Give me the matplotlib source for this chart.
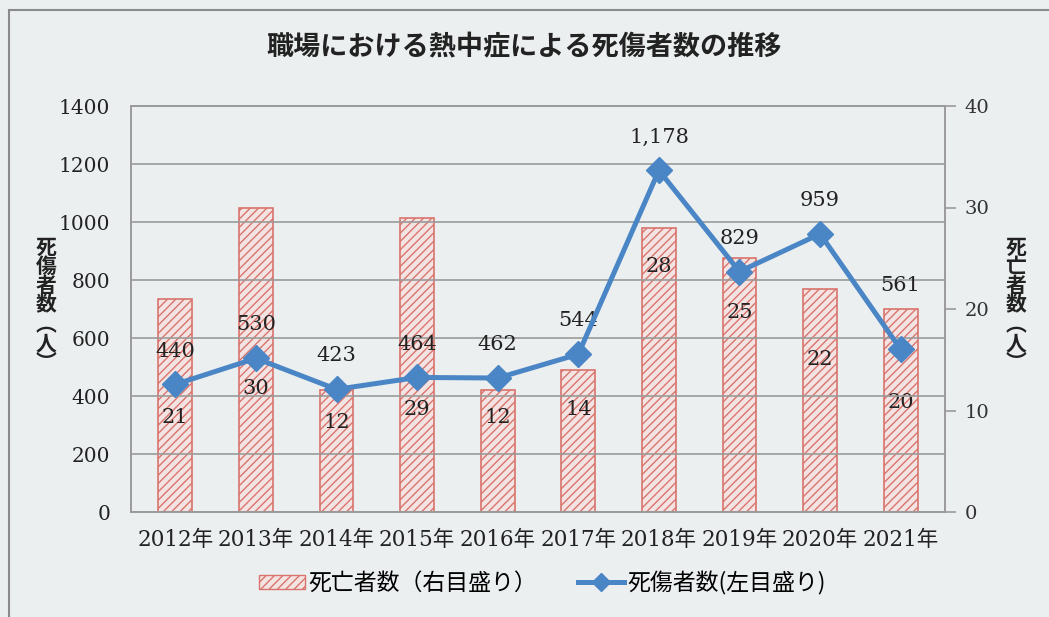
import matplotlib
matplotlib.use("Agg")
import matplotlib.pyplot as plt
import numpy as np
from matplotlib.patches import Rectangle, Patch
from matplotlib.lines import Line2D

# data
years = ["2012年", "2013年", "2014年", "2015年", "2016年",
         "2017年", "2018年", "2019年", "2020年", "2021年"]
casualties = [440, 530, 423, 464, 462, 544, 1178, 829, 959, 561]   # left axis
deaths = [21, 30, 12, 29, 12, 14, 28, 25, 22, 20]                  # right axis

# label placement
death_label_y = [9.3, 12.2, 8.8, 10.1, 9.3, 10.1, 24.2, 19.7, 15.0, 10.8]   # right-axis units
casualty_label_dy = [24, 24, 24, 24, 24, 24, 24, 24, 24, 46]                 # points above marker

jp = ["Noto Sans CJK JP", "DejaVu Sans"]
num = ["DejaVu Serif", "Noto Sans CJK JP"]
bg = "#eceff0"
line_c = "#4a86c5"
bar_edge = "#d9746c"
grid_c = "#9a9a9a"

plt.rcParams["hatch.color"] = "#dc9a95"
plt.rcParams["hatch.linewidth"] = 1.0

fig = plt.figure(figsize=(10.49, 6.17), dpi=100, facecolor=bg)
fig.patches.append(Rectangle((9 / 1049, -0.1), 1.2, 1 - 10 / 617 + 0.1,
                             transform=fig.transFigure, fill=False,
                             edgecolor="#8a8a8a", lw=1.5))

ax = fig.add_axes([131 / 1049, 1 - 512 / 617, (945 - 131) / 1049, (512 - 106) / 617])
ax.set_facecolor("none")
ax2 = ax.twinx()

x = np.arange(len(years))

# bars on the right axis
ax2.bar(x, deaths, width=0.42, facecolor="#f3e4e3", edgecolor=bar_edge,
        hatch="////", lw=1.2, zorder=2)
for xi, d, ly in zip(x, deaths, death_label_y):
    ax2.text(xi, ly, str(d), ha="center", va="center", fontsize=15,
             family=num, color="#222222", zorder=5)
ax2.set_ylim(0, 40)
ax2.set_yticks([0, 10, 20, 30, 40])
ax2.tick_params(axis="y", length=8, width=1.2, color=grid_c, labelsize=14,
                pad=6, direction="out")
for t in ax2.get_yticklabels():
    t.set_family(num)
    t.set_color("#333333")

# line on the left axis, drawn above bars
ax.set_zorder(ax2.get_zorder() + 1)
ax.plot(x, casualties, color=line_c, lw=3.6, marker="D", markersize=13,
        markeredgecolor=line_c, zorder=4)
for xi, c, dy in zip(x, casualties, casualty_label_dy):
    ax.annotate(f"{c:,}", (xi, c), xytext=(0, dy), textcoords="offset points",
                ha="center", va="center", fontsize=15, family=num, color="#222222")
ax.set_ylim(0, 1400)
ax.set_yticks(range(0, 1401, 200))
ax.set_xlim(-0.55, len(years) - 0.45)
ax.set_xticks(x)
ax.set_xticklabels(years)
ax.tick_params(axis="y", length=0, labelsize=14.5, pad=15)
ax.tick_params(axis="x", length=0, labelsize=15.5, pad=12)
for t in ax.get_yticklabels() + ax.get_xticklabels():
    t.set_family(num)
    t.set_color("#222222")
ax.grid(axis="y", color=grid_c, lw=1.2, zorder=0)
ax2.grid(False)
for a in (ax, ax2):
    for s in a.spines.values():
        s.set_color(grid_c)
        s.set_linewidth(1.2)

# vertical axis titles
fig.text(46 / 1049, 1 - 305 / 617, "死\n傷\n者\n数\n︵\n人\n︶", ha="center", va="center",
         fontsize=15, family=jp, fontweight="bold", color="#222222", linespacing=0.9)
fig.text(1016 / 1049, 1 - 305 / 617, "死\n亡\n者\n数\n︵\n人\n︶", ha="center", va="center",
         fontsize=15, family=jp, fontweight="bold", color="#222222", linespacing=0.9)

fig.text(0.5, 1 - 47 / 617, "職場における熱中症による死傷者数の推移", ha="center", va="center",
         fontsize=19.5, family=jp, fontweight="bold", color="#222222")

# legend
handles = [Patch(facecolor="#f3e4e3", edgecolor=bar_edge, hatch="////"),
           Line2D([], [], color=line_c, lw=3.6, marker="D", markersize=9)]
leg = fig.legend(handles, ["死亡者数（右目盛り）", "死傷者数(左目盛り)"],
                 loc="center", bbox_to_anchor=(0.517, 1 - 583 / 617), ncol=2,
                 frameon=False, prop={"family": jp, "size": 16.5},
                 columnspacing=1.8, handlelength=2.0, handleheight=0.6,
                 handletextpad=0.15)

fig.savefig("out.png", dpi=100, facecolor=bg)
